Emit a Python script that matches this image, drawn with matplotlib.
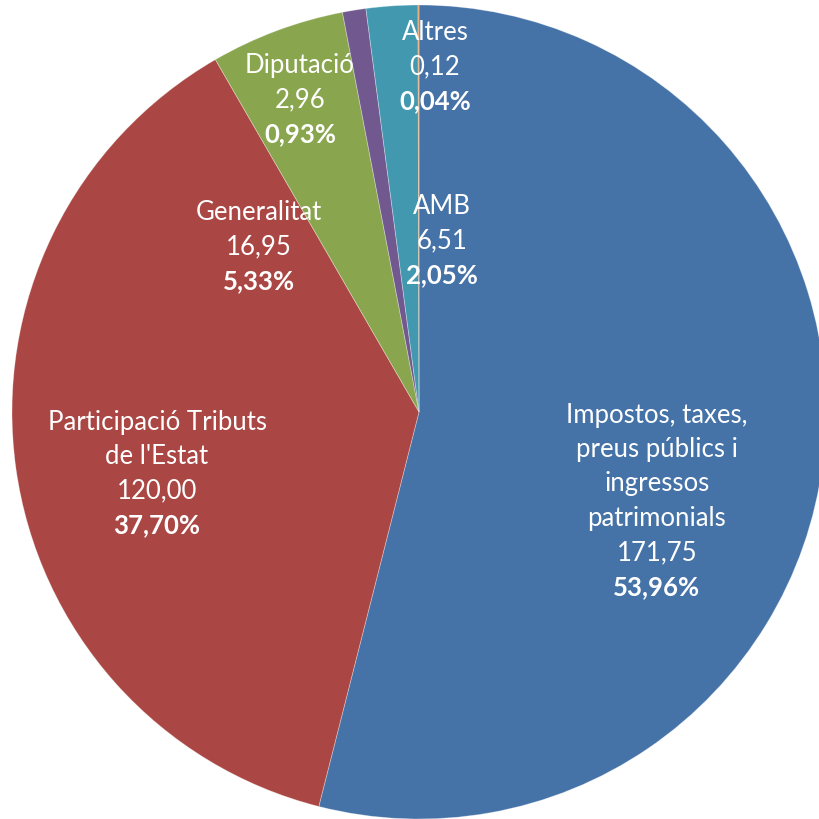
import matplotlib.pyplot as plt

# Income sources (milions d'euros), clockwise from 12 o'clock
names = ["Impostos, taxes,\npreus públics i\ningressos\npatrimonials",
         "Participació Tributs\nde l'Estat",
         "Generalitat", "Diputació", "AMB", "Altres"]
values = [171.75, 120.00, 16.95, 2.96, 6.51, 0.12]
colors = ["#4572A7", "#AA4643", "#89A54E", "#71588F", "#4198AF", "#DB843D"]

# label block centres, in pixels of the 819x819 picture
label_px = [(657, 501), (157, 474), (259, 247), (300, 100), (442, 241), (435, 67)]

CX, CY, R = 419, 412, 407
W = H = 819
FONT = "Lato"
SIZE = 18.5
PITCH = 34.3 * 72 / 100  # line pitch in points

fig = plt.figure(figsize=(W / 100, H / 100), dpi=100)
ax = fig.add_axes([0, 0, 1, 1])
ax.pie(values, colors=colors, startangle=90, counterclock=False, radius=1,
       wedgeprops=dict(linewidth=0.6, edgecolor=(1, 1, 1, 0.35)))
ax.set_xlim(-CX / R, (W - CX) / R)
ax.set_ylim(-(H - CY) / R, CY / R)
ax.set_aspect("equal")
ax.axis("off")

total = sum(values)
for name, v, (px, py) in zip(names, values, label_px):
    x = (px - CX) / R
    y = -(py - CY) / R
    lines = name.split("\n") + [f"{v:.2f}".replace(".", ",")]
    pct = f"{100 * v / total:.2f}%".replace(".", ",")
    n = len(lines) + 1
    for i, t in enumerate(lines + [pct]):
        off = ((n - 1) / 2 - i) * PITCH
        ax.annotate(t, (x, y), xytext=(0, off), textcoords="offset points",
                    ha="center", va="center", color="white", fontsize=SIZE,
                    family=FONT, fontweight="bold" if i == n - 1 else "normal")

fig.savefig("out.png", dpi=100)
